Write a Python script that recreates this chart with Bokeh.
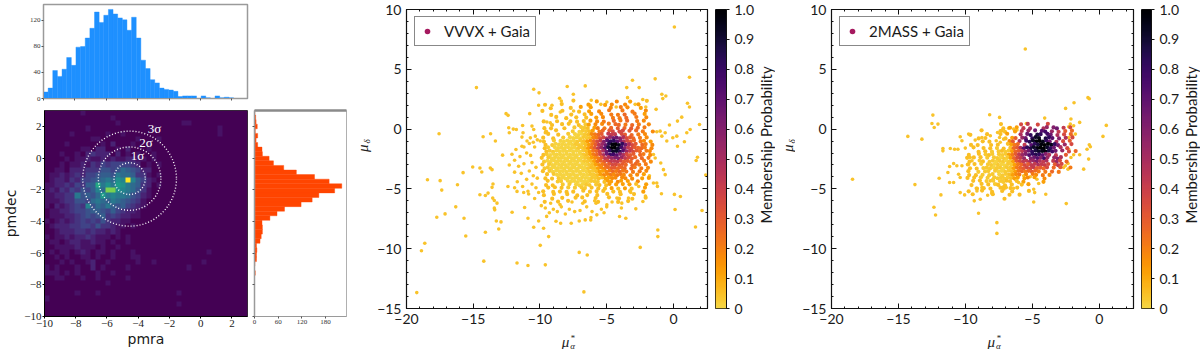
import math
import numpy as np
from bokeh.embed import file_html
from bokeh.resources import INLINE
from bokeh.plotting import figure
from bokeh.layouts import row, column
from bokeh.models import (FixedTicker, Label, Legend, LegendItem, LinearAxis, LinearColorMapper, Range1d)
from bokeh.palettes import Inferno256, Viridis256

# ---- left histograms: counts per bin
pmra_counts = [10,16,43,34,45,63,51,79,80,93,108,133,117,128,137,130,124,121,105,125,93,59,46,29,24,16,14,13,11,3,4,4,4,0,4,1,0,4,1,2,1,0,0,0]
pmdec_counts = [1,3,4,7,2,8,4,8,19,20,37,48,74,106,152,189,221,203,163,146,118,76,57,39,19,20,20,17,14,5,6,5,5,1,0,2,0,0,0,0,0,0,0,0,0]

# ---- 2-D counts (base 36), 40 x 40, top row first
heat_rows = [
"0000000100000","0000000000000100","00000000000000100000000000011",
"00000000100000000000010000000000001","00000100000010010000000000000000001","00000000011000000010001",
"00001000000102000100100","00000001102200102000100","000100102322202010100100",
"000010112112121122110100","0001011213243444432010100","0011022233355457654220000",
"0112123244566587763310100","01221324456787a9k96421","1122324366c8a8ba8763201",
"121324354697gga987531","11223385657b898875421","11123355478768765431",
"10212343957686564321","0112234456654643221","0111223454563432211",
"10121234343532211","012223344353321101","001222332322121",
"10112122321110101","01101221121101001","001111211101001",
"010110121011010001000000000000001","0010100110100100011","000101001200100000100100000000010",
"1010001002010000100000000000100","1110101000100100","0011000100100000100000","0000000000001",
"0","00000010001000000000000000100000","1","00000000000000000000000000100000","0","0",
]
sigma_radii = [1, 2, 3]
sigma_center = (-4.55, -1.3)
sigma_labels = ["1σ", "2σ", "3σ"]
sigma_label_x = [-4.05, -3.5, -2.95]
sigma_label_y = [0.19, 1.0, 1.875]

# ---- membership levels used in the dense-core tables
levels = {"a":.005,"b":.03,"c":.05,"d":.12,"e":.17,"f":.21,"g":.26,"h":.3,"i":.36,"j":.42,"k":.48,"l":.54,
          "m":.6,"n":.66,"o":.72,"p":.78,"q":.82,"r":.85,"s":.88,"t":.92,"u":.95,"v":.98,"w":1.0}

vvvx_core = [
"..........c......d.....e...d....c.",
".c....c.......d....d.e...e...d....",
"...c.....c..d..d.....e..f.e...d...",
"c.....c....c..d..e..f...f..f...e..",
"...c.....c...c.d..e..f.f.g..f..d..",
"....c..c..c..c..d.e..f.f.g..f..e..",
".c...c...c.c.c.d.e.f..g.f.g..f.e..",
"...c..c.c..c.bd.e.e.f.gg.f.g.f..e.",
".c.c...c..b.bbc.df.f.g.h.g.h.g.f..",
".c..c....b.abbcd.fg.hi.ii.h.g.f..e",
"..c..c..b.aaabcefgh.jjj.ih.g.f.e..",
"c..c..b.aaaabbcefhiklnnmkihg.f.e..",
".c..b.aaaaabbcdegijmoqqomkihg.fe.d",
".c.baaaaaabbbcdfhjlnrvwuqnkih.gf.e",
".cb.aaaaaaabbcdfhjloswwtpmjihggf.e",
".cbbaaaaaaaabcdfgiknqttroljihg.fe.",
".cbaaaaaaaaaabcdfgiknppomkihh.gf.e",
"c.baaaaaaaaaabcdefhjklmmljihg.g.f.",
".baaaaaaaaaaabbcdfghijjjihhg.g.f.e",
"c.baaaaaaaaaaabcdefghiihhg.ggf.f..",
".bbaaaaaaaaaaabccdefghhggg.gf.f.e.",
"c.baaaaaaaaaaabbcddefgfgff.f.f.e..",
"..c.baaaaaaaaaabbcdeefeffe.e.e.d..",
".c.c.baaaaaaaaabbccddee.ee.e..d.d.",
"..c..bb.aaaaaaabbb.cdd.ed.d..e....",
".c.c..b.b.aaabb.bc.cd.d.d.d.c..d..",
"..c.c.c.b.b.bb.c.c.c.d.c.d.c...d..",
"c..c.c.c.c..c.c.c.c..c.c..c...d...",
".c..c...c..c..c..c..c...c...c.....",
"...c..c...c.c...c...c..c...c...c..",
".c...c..c....c...c.....c..c.......",
]
mass_core = [
"","","","","","","",
"..........c.....i.j..i..i",
"...........c.d.d.j.k...kl.mn.j.i",
"....c.....cc..d.j.l.n.op.l.j.h.g",
".c....c...c.d...k.nq.sq.pn.k.i.g",
"...c.c.....c.dh.ln.qtu.sqo.m.k.i",
".....c.c.....eh.k.prtvwuqn.k.i.h",
".c.c...c.c..cdfg.j.oqsvwwuqn.l.i.",
"..c..c.c.b.c.cghkoqstvwwtqn.k.i.",
"...c.c.b.bcbbdghjlnqstuvspn.l.i.g",
".c..c.bcb.bbbdfhjlmoqrqomk.j..h.",
"c.c.c.b.bbabbdgijl.mnompl.lmk...",
".c..bc.bbabbabdhijjklmkjk.jli.g.",
"c.c.b.bbabaabbdfgihjjkjji.hji...",
".c.c.bbbabbabbdfghiijhhgi.g.h..f",
"c..b.bb.baabbcdfgfghgf.f.g.f....",
".c.c.b.bb.abbcdef.e.fe.f.e......",
"c.c.b.b.bbbbbcdd.de.d..e........",
"..c.c.b.b.bbcc.c.d.....d........",
".c..c.c.bc.c.c..c.d.............",
"...c.c.c..cc.c.c................",
"c...c..c..c..c....c.............",
"..c.....c....c..c...............",
"...........c....................",
]
core_x0, core_y0, core_dx, core_dy = -10.12, 2.5, 0.25, 0.28
row_shift = [0,.5,.2,.7,.35,.85,.1,.6,.3,.8,.45,.95,.15,.65,.4,.9]
col_shift = [0,.15,-.12,.2,-.2,.08,-.05,.18,-.15,.1,-.08,.22,-.18,.03,.12,-.1]

# ---- scattered members outside the dense tables (pmra*, pmdec)
vvvx_far_x = [0.07,-14.76,-10.47,-10.07,-7.96,-6.61,-7.5,-3.07,-1.37,1.2,-3.5,-2.57,-3.44,-0.87,-0.57,-0.8,-2.3,1.05,1.2,-8.53,-8.4,-9.1,-10.1,-12.54,-12.39,-10.77,-8.48,-7.48,-6.16,-6.23,-5.44,-4.99,-4.29,-2.87,-1.3,-2.07,0.62,0.3,1.95,-0.3,1.25,1.0,-17.56,-14.26,-13.7,-13.34,-12.8,-12.34,-11.77,-11.27,-11.35,-10.6,-10.47,-9.48,-9.23,-10.35,-9.6,-10.97,-11.35,-10.72,-9.98,-15.04,-14.5,-14.36,-15.76,-13.72,-13.59,-18.43,-17.48,-17.36,-16.18,-14.5,-14.09,-13.89,-13.59,-13.52,-13.54,-13.42,-13.22,-13.42,-13.39,-16.31,-17.11,-17.73,-15.69,-13.27,-12.92,-13.09,-14.09,-15.56,-18.63,-18.88,-14.21,-19.23,-11.72,-10.9,-9.6,-6.71,-9.98,-9.35,-7.06,-6.46,-2.49,-1.17,-1.17,1.65,2.14,0.12,0.07,0.52,2.42,1.7,1.8,
-1.0,-0.62,-1.25,-0.05,0.25,0.3,0.82,-0.5,-0.87,-1.5,-1.37,-0.95,-0.75,-0.62,-1.25,-1.5,-1.2,-0.9,-2.29,-2.82,-3.57,-4.04,-3.87,-4.24,-3.37,-4.99,-5.74,-6.18,-6.61,-7.06,-7.66,-8.45,-9.73,-10.47,-10.9,-10.1,-12.09,-11.15,-11.72,-11.22,-10.85,
-11.8,-11.5,-11.9,-12.3,-11.0,-10.7,-10.4,-10.6,-11.2,-11.6,-10.3,-10.8,-11.4,-10.5,-10.2,-11.0,-11.7,-10.6,-11.3,-10.3,-12.1,-11.9,-12.4,-11.9,-10.9,-10.1,-10.4,-10.8,-11.2,-10.2,-10.5,-12.3,-11.3,-12.0,-9.9,-9.6,-9.3,-9.0,-8.7,-8.4,-8.1,-7.8,-7.4,-7.0,-6.5,-6.1,-5.8,-5.4,-5.0,-8.8,-9.5,-6.2,-5.9,-9.2,-8.5,-7.6,-6.8,-5.2,-4.6,-3.9,-3.2,-2.6,-2.1,-1.8]
vvvx_far_y = [8.54,3.47,3.33,3.03,3.56,3.61,2.91,4.09,4.2,4.34,3.47,3.47,2.63,2.91,2.77,2.55,2.47,2.16,1.85,2.58,2.35,1.99,1.99,1.29,1.15,1.29,1.43,1.51,2.41,2.0,2.07,2.27,1.85,2.07,1.65,1.85,1.0,0.67,0.39,0.34,-0.03,-0.31,-0.39,-0.64,-0.39,-1.0,-2.18,0.11,-0.03,-0.31,-0.67,0.25,-0.03,0.59,0.53,-0.59,-0.31,-1.0,-1.43,-0.73,-1.0,-3.17,-3.25,-3.59,-3.64,-3.25,-3.39,-4.23,-4.31,-5.1,-4.65,-5.49,-5.55,-5.35,-4.87,-4.59,-5.77,-5.97,-6.19,-6.61,-6.75,-6.5,-7.09,-7.37,-7.45,-7.68,-7.76,-8.35,-8.63,-8.94,-9.55,-10.17,-11.04,-13.67,-11.2,-11.4,-11.35,-13.61,-9.72,-8.99,-10.31,-10.53,-9.89,-8.43,-8.99,-8.18,-6.81,-6.72,-5.46,-5.63,-3.84,-2.63,-2.35,
-0.17,-0.31,-0.22,-0.73,-0.59,-1.43,-1.06,-1.0,-0.59,-2.13,-2.41,-2.83,-3.39,-3.81,-4.51,-4.51,-4.79,-5.4,-6.05,-6.67,-7.45,-7.31,-6.19,-5.77,-5.77,-6.33,-7.17,-7.39,-7.59,-7.68,-7.87,-7.87,-8.29,-8.21,-7.45,-7.68,-6.95,-6.55,-5.21,-5.3,-5.43,
-1.7,-2.3,-2.6,-3.0,-2.0,-2.2,-1.5,-2.8,-2.9,-3.1,-3.2,-3.5,-3.7,-3.9,-4.1,-4.2,-4.4,-4.6,-4.8,-4.9,-2.1,-3.6,-4.8,-4.9,-5.2,-5.3,-5.8,-1.2,-1.5,-0.9,-1.1,-0.3,0.3,0.0,-6.4,-6.6,-7.0,-6.7,-6.9,-6.5,-7.1,-6.7,-6.9,-6.8,-6.5,-6.9,-6.2,-6.7,-6.5,-7.7,-7.3,-7.6,-6.0,-6.2,-6.3,-6.1,-6.2,-7.0,-6.1,-6.6,-5.3,-4.8,-5.6,-3.9]
mass_far_x = [-5.53,-0.85,-0.75,-1.89,-2.52,-12.43,-12.5,-12.05,-12.33,-14.3,-13.25,-18.43,-13.77,-12.35,-12.23,-9.02,-7.65,-7.65,-2.47,-4.9,-4.0,-4.53,-4.9,-4.83,0.52,0.27,-0.75,-0.67,-0.92,-0.8,-1.17,-1.47,-1.92,-2.12,-2.29,-2.34,-2.54,-2.67,-2.34,-1.79,-2.04,-2.29,-1.92,-2.17,-1.47,-2.12,-2.29,-8.19,-7.45,-4.08,-5.45,
-10.39,-9.76,-8.77,-9.27,-10.26,-10.01,-11.13,-11.68,-11.68,-10.81,-10.56,-10.88,-11.18,-11.31,-10.64,-10.26,-9.76,-10.51,-10.39,-10.88,-11.18,-11.96,-11.83,-10.39,-10.06,-9.14,-9.19,-9.34,-8.89,-8.34,-8.77,-8.14,-7.95,-7.65,-7.27,-8.02,-7.15,-6.95,-6.4,-6.03,-6.53,-6.28,-5.65,-4.66,-5.16,-9.39,-9.51,-9.64,-8.14,-7.6,-7.4,-7.45,-7.4,-7.7,-7.15,-6.77,-6.4,-6.15]
mass_far_y = [6.7,2.63,2.54,2.2,1.73,1.17,0.47,0.42,0.14,-0.61,-0.84,-4.19,-4.64,-6.54,-7.18,-7.04,-7.82,-8.72,-6.23,-6.09,-5.45,-4.55,-5.03,-5.31,0.31,-0.61,-1.31,-1.48,-1.68,-2.51,-3.35,-2.15,-2.15,-2.37,-1.68,-2.87,-3.07,-3.21,-3.35,-0.42,-0.56,-0.7,0.28,0.42,0.56,0.84,0.2,1.2,0.98,0.92,0.47,
-0.64,-0.42,-0.7,-0.92,-0.98,-1.59,-1.62,-1.82,-1.62,-1.68,-1.68,-2.88,-3.13,-3.63,-3.07,-3.07,-2.93,-3.77,-4.05,-4.47,-4.47,-4.11,-5.5,-5.31,-5.5,-5.17,-4.94,-6.0,-5.87,-5.53,-4.89,-4.33,-4.19,-4.61,-4.33,-5.36,-4.83,-4.89,-4.94,-4.47,-4.61,-4.19,-3.91,-4.19,-3.99,-1.54,-2.65,-2.37,-0.56,-0.28,-0.14,-0.7,-1.1,-0.98,-0.84,0.08,0.0,-0.08]
far_prob = 0.04

# ---- ticks
main_x_ticks = [-20,-15,-10,-5,0]
main_x_labels = ["−20","−15","−10","−5","0"]
main_y_ticks = [10,5,0,-5,-10,-15]
main_y_labels = ["10","5","0","−5","−10","−15"]
cb_ticks = [0,.1,.2,.3,.4,.5,.6,.7,.8,.9,1.0]
cb_labels = ["0","0.1","0.2","0.3","0.4","0.5","0.6","0.7","0.8","0.9","1.0"]
heat_x_ticks = [-10,-8,-6,-4,-2,0,2]
heat_x_labels = ["−10","−8","−6","−4","−2","0","2"]
heat_y_ticks = [2,0,-2,-4,-6,-8,-10]
heat_y_labels = ["2","0","−2","−4","−6","−8","−10"]
top_y_ticks = [0,40,80,120]
right_x_ticks = [0,60,120,180]

MAIN_FONT = "Lato"
SERIF = "Liberation Serif"
INK = "#1a1a1a"
GREEK = dict(text_color="#222222", text_font=SERIF, text_font_style="italic", text_align="center",
             text_baseline="middle")


def inferno(p):
    return Inferno256[int(round((1 - p) * 0.9 * 255))]


def ticks(axis, vals, labels=None):
    axis.ticker = FixedTicker(ticks=vals)
    axis.major_label_overrides = {v: (labels[i] if labels else "") for i, v in enumerate(vals)}


def base(w, h, left, right, top, bottom, xr, yr):
    p = figure(width=w, height=h, min_border_left=left, min_border_right=right, min_border_top=top,
               min_border_bottom=bottom, x_range=Range1d(*xr), y_range=Range1d(*yr),
               toolbar_location=None, tools="", output_backend="svg", x_axis_type=None, y_axis_type=None,
               background_fill_color="white", border_fill_color=None)
    p.grid.visible = False
    return p


def strip(w, h):
    """A blank panel, its frame as big as itself, that only carries label text; x and y count pixels."""
    p = base(w, h, 0, 0, 0, 0, (0, w), (0, h))
    p.outline_line_color = None
    return p


# ---------- top histogram
bin_w = 13 / len(pmra_counts)
edges = [-10 + bin_w * i for i in range(len(pmra_counts) + 1)]
top = base(350, 104, 43, 103, 4, 6, (-10, 3), (0, 144.6))
top.quad(left=edges[:-1], right=edges[1:], bottom=0, top=pmra_counts, fill_color="#1E90FF",
         line_color="#1E90FF", line_width=0.4)
top.outline_line_color = "#9a9a9a"
top.outline_line_width = 1.5
ax = LinearAxis(major_tick_in=0, major_tick_out=2, minor_tick_out=0, minor_tick_in=0, axis_line_color="#9a9a9a",
                major_tick_line_color="#555555")
ticks(ax, heat_x_ticks)
top.add_layout(ax, "below")
ax = LinearAxis(major_tick_in=0, major_tick_out=2, minor_tick_out=0, minor_tick_in=0, axis_line_color="#9a9a9a",
                major_tick_line_color="#555555", major_label_text_font=SERIF, major_label_text_font_size="7px",
                major_label_text_color="#333333", major_label_standoff=1)
ticks(ax, top_y_ticks, [str(v) for v in top_y_ticks])
top.add_layout(ax, "left")

# ---------- heat map
heat = base(250, 245, 43, 3, 6, 31, (-10, 3), (-10, 3))
grid = np.array([[int(c, 36) for c in r.ljust(40, "0")[:40]] for r in heat_rows], dtype=float)[::-1]
heat.image(image=[grid], x=-10, y=-10, dw=13, dh=13,
           color_mapper=LinearColorMapper(palette=Viridis256, low=0, high=20))
for r_ in sigma_radii:
    heat.ellipse(x=sigma_center[0], y=sigma_center[1], width=2 * r_, height=2 * r_, fill_color=None,
                 line_color="white", line_width=1.4, line_dash="1 2")
for t, x, y in zip(sigma_labels, sigma_label_x, sigma_label_y):
    heat.add_layout(Label(x=x, y=y, text=t, text_color="white", text_font=SERIF, text_font_size="13px",
                          text_align="center", text_baseline="middle"))
heat.outline_line_color = "#333333"
ax = LinearAxis(major_tick_in=0, major_tick_out=2, minor_tick_out=0, minor_tick_in=0,
                major_label_text_font=SERIF, major_label_text_font_size="11px", major_label_text_color=INK,
                major_label_standoff=1, axis_label="pmra", axis_label_text_font="DejaVu Sans",
                axis_label_text_font_size="14px", axis_label_text_font_style="normal", axis_label_standoff=1,
                axis_label_text_color=INK)
ticks(ax, heat_x_ticks, heat_x_labels)
heat.add_layout(ax, "below")
ax = LinearAxis(major_tick_in=0, major_tick_out=2, minor_tick_out=0, minor_tick_in=0,
                major_label_text_font=SERIF, major_label_text_font_size="11px", major_label_text_color=INK,
                major_label_standoff=1, axis_label="pmdec", axis_label_text_font="DejaVu Sans",
                axis_label_text_font_size="14px", axis_label_text_font_style="normal", axis_label_standoff=2,
                axis_label_text_color=INK)
ticks(ax, heat_y_ticks, heat_y_labels)
heat.add_layout(ax, "left")

# ---------- right histogram
right = base(100, 245, 4, 4, 6, 31, (0, 233), (-10, 3))
bin_h = 13 / len(pmdec_counts)
ye = [3 - bin_h * i for i in range(len(pmdec_counts) + 1)]
right.quad(left=0, right=pmdec_counts, top=ye[:-1], bottom=ye[1:], fill_color="#FF4500",
           line_color="#FF4500", line_width=0.4)
right.outline_line_color = "#b0b0b0"
ax = LinearAxis(major_tick_in=0, major_tick_out=2, minor_tick_out=0, minor_tick_in=0, axis_line_color="#9a9a9a",
                major_tick_line_color="#555555", major_label_text_font=SERIF, major_label_text_font_size="7px",
                major_label_text_color="#333333", major_label_standoff=1)
ticks(ax, right_x_ticks, [str(v) for v in right_x_ticks])
right.add_layout(ax, "below")
ax = LinearAxis(major_tick_in=0, major_tick_out=2, minor_tick_out=0, minor_tick_in=0, axis_line_color="#9a9a9a",
                axis_line_width=1.5, major_tick_line_color="#555555")
ticks(ax, heat_y_ticks)
right.add_layout(ax, "left")
right.add_layout(LinearAxis(ticker=FixedTicker(ticks=[]), major_tick_in=0, major_tick_out=0, minor_tick_in=0,
                            minor_tick_out=0, axis_line_color="#8a8a8a", axis_line_width=2.5), "above")


# ---------- membership panels
def main_panel(w, left, core, far_x, far_y, legend_text):
    p = base(w, 333, left, 4, 9, 25, (-20, 2.55), (-15, 10))
    xs, ys, cs = [], [], []
    for i, s in enumerate(core):
        for j, ch in enumerate(s):
            if ch in levels:
                xs.append(core_x0 + core_dx * (j + .5 + row_shift[i % 16]))
                ys.append(core_y0 - core_dy * (i + .5 + col_shift[j % 16]))
                cs.append(inferno(levels[ch]))
    p.scatter(x=far_x, y=far_y, size=3.6, marker="circle", fill_color=inferno(far_prob), line_color=None)
    p.scatter(x=xs, y=ys, size=4.2, marker="circle", fill_color=cs, line_color=None)
    key = p.scatter(x=[-30], y=[-30], size=5.5, marker="circle", fill_color="#a5195f", line_color=None)
    leg = Legend(items=[LegendItem(label=legend_text, renderers=[key])], location=(8, 262),
                 label_text_font=MAIN_FONT, label_text_font_size="15px", label_text_color=INK,
                 border_line_color="#111111", border_line_width=1.3, background_fill_alpha=1, glyph_width=14,
                 glyph_height=14, label_standoff=10, padding=5, margin=0, label_height=14)
    p.add_layout(leg)
    p.outline_line_color = "#111111"
    p.outline_line_width = 1.2
    for side, lab in (("below", True), ("left", True), ("above", False), ("right", False)):
        ax = LinearAxis(major_tick_in=5, major_tick_out=0, minor_tick_in=2, minor_tick_out=0, axis_line_color="#111111",
                        major_tick_line_color="#111111", minor_tick_line_color="#111111",
                        major_label_text_font=MAIN_FONT, major_label_text_font_size="14px",
                        major_label_text_color=INK, major_label_standoff=5 if lab else 0)
        horizontal = side in ("below", "above")
        vals = main_x_ticks if horizontal else main_y_ticks
        tl = (main_x_labels if horizontal else main_y_labels) if lab else None
        ticks(ax, vals, tl)
        ax.ticker = FixedTicker(ticks=vals,
                                minor_ticks=list(range(-20, 3)) if horizontal else list(range(-15, 11)))
        p.add_layout(ax, side)
    return p


def x_label_strip(w, cx):
    s = strip(w, 16)
    s.add_layout(Label(x=cx - 4, y=8, text="μ", text_font_size="15px", **GREEK))
    s.add_layout(Label(x=cx + 4, y=4, text="α", text_font_size="9px", **GREEK))
    s.add_layout(Label(x=cx + 4, y=12, text="*", text_font_size="9px", **GREEK))
    return s


def y_label_strip(w, cx):
    s = strip(w, 349)
    cy = 349 - 158
    s.add_layout(Label(x=cx, y=cy - 4, text="μ", angle=math.pi / 2, text_font_size="15px", **GREEK))
    s.add_layout(Label(x=cx + 4, y=cy + 4, text="δ", angle=math.pi / 2, text_font_size="9px", **GREEK))
    return s


def cb_label_strip(w, cx):
    s = strip(w, 349)
    s.add_layout(Label(x=cx, y=349 - 158, text="Membership Probability", angle=math.pi / 2, text_font=MAIN_FONT,
                       text_font_size="15px", text_color=INK, text_align="center", text_baseline="middle"))
    return s


def colorbar(w, right_border):
    p = base(w, 349, 4, right_border, 9, 41, (0, 1), (0, 1))
    grad = np.linspace(0, 1, 256).reshape(256, 1)
    p.image(image=[grad], x=0, y=0, dw=1, dh=1,
            color_mapper=LinearColorMapper(palette=[inferno(v) for v in np.linspace(0, 1, 256)], low=0, high=1))
    p.outline_line_color = "#111111"
    ax = LinearAxis(major_tick_in=0, major_tick_out=3, minor_tick_in=0, minor_tick_out=0, axis_line_color="#111111",
                    major_tick_line_color="#111111", major_label_text_font=MAIN_FONT,
                    major_label_text_font_size="14px", major_label_text_color=INK, major_label_standoff=5)
    ticks(ax, cb_ticks, cb_labels)
    p.add_layout(ax, "right")
    return p


p2 = main_panel(339, 34, vvvx_core, vvvx_far_x, vvvx_far_y, "VVVX + Gaia")
cb2 = colorbar(46, 30)
p3 = main_panel(342, 36, mass_core, mass_far_x, mass_far_y, "2MASS + Gaia")
cb3 = colorbar(45, 29)

left_group = column(top, row(heat, right, spacing=0), spacing=0)
page = row(left_group,
           y_label_strip(22, 12), column(p2, x_label_strip(339, 183), spacing=0), cb2, cb_label_strip(18, 8),
           y_label_strip(20, 12), column(p3, x_label_strip(342, 185), spacing=0), cb3, cb_label_strip(18, 8),
           spacing=0, margin=0)

open("out.html", "w").write(file_html(page, INLINE))
